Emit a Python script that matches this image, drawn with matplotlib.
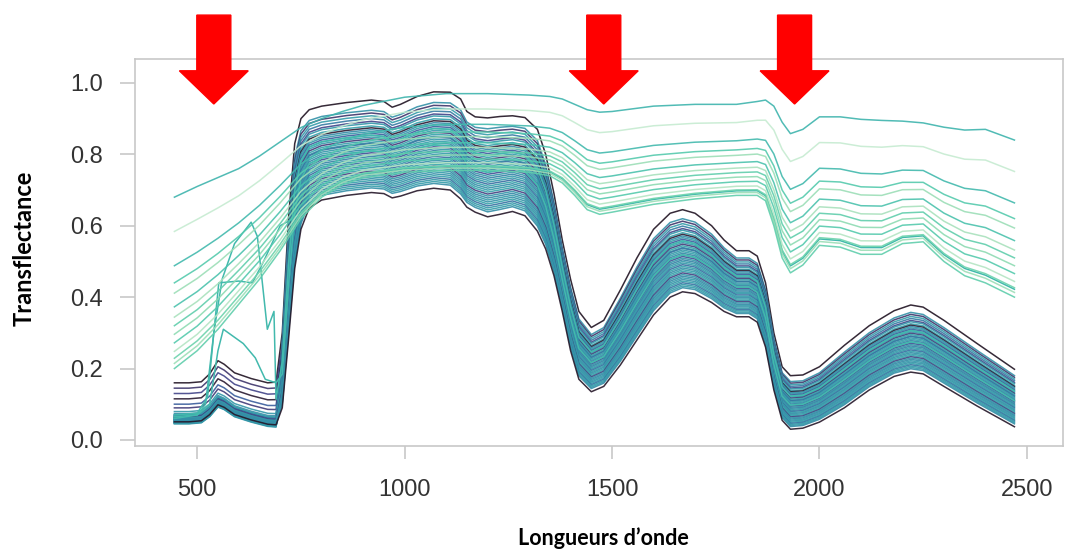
import numpy as np
import matplotlib
matplotlib.use("Agg")
import matplotlib.pyplot as plt
from matplotlib.patches import Polygon
import seaborn as sns

plt.rcParams['font.family'] = ['Liberation Sans', 'DejaVu Sans']

# ---- dark group (low visible, deep water bands) : envelopes
W_DARK = [445, 480, 510, 530, 550, 565, 590, 630, 670, 690, 705, 720, 735, 750, 770, 800,
          860, 920, 950, 970, 990, 1030, 1070, 1110, 1135, 1150, 1170, 1200, 1230, 1260,
          1290, 1320, 1340, 1360, 1380, 1400, 1420, 1450, 1480, 1520, 1560, 1600, 1640,
          1670, 1700, 1740, 1770, 1800, 1830, 1850, 1870, 1890, 1910, 1930, 1960, 2000,
          2060, 2120, 2180, 2220, 2250, 2300, 2380, 2470]
DARK_HIGH = [0.160, 0.160, 0.163, 0.185, 0.222, 0.212, 0.188, 0.172, 0.160, 0.162, 0.30, 0.62,
             0.83, 0.90, 0.925, 0.935, 0.945, 0.952, 0.948, 0.932, 0.94, 0.962, 0.975, 0.974,
             0.955, 0.92, 0.905, 0.902, 0.906, 0.908, 0.903, 0.87, 0.80, 0.69, 0.56, 0.45,
             0.36, 0.315, 0.335, 0.42, 0.51, 0.59, 0.635, 0.645, 0.635, 0.60, 0.56, 0.53,
             0.53, 0.515, 0.44, 0.30, 0.205, 0.18, 0.182, 0.205, 0.265, 0.32, 0.362, 0.378,
             0.372, 0.335, 0.27, 0.198]
DARK_LOW = [0.045, 0.045, 0.048, 0.065, 0.092, 0.085, 0.065, 0.050, 0.038, 0.036, 0.09, 0.28,
            0.48, 0.59, 0.65, 0.672, 0.685, 0.693, 0.69, 0.678, 0.683, 0.698, 0.705, 0.70,
            0.675, 0.652, 0.638, 0.625, 0.632, 0.64, 0.628, 0.585, 0.535, 0.46, 0.36, 0.25,
            0.17, 0.135, 0.15, 0.21, 0.28, 0.35, 0.40, 0.415, 0.41, 0.385, 0.36, 0.345,
            0.345, 0.33, 0.26, 0.14, 0.055, 0.03, 0.033, 0.05, 0.09, 0.14, 0.178, 0.19,
            0.185, 0.15, 0.095, 0.037]

# position of each dark spectrum inside the band (NIR/SWIR), its visible level, its tone
DARK_FRAC = [1.00, 0.89, 0.86, 0.83, 0.80, 0.77, 0.75, 0.72, 0.70, 0.68, 0.66, 0.64, 0.62,
             0.60, 0.58, 0.56, 0.54, 0.53, 0.51, 0.49, 0.47, 0.45, 0.43, 0.41, 0.39, 0.37,
             0.35, 0.33, 0.31, 0.29, 0.27, 0.25, 0.23, 0.21, 0.19, 0.17, 0.15, 0.13, 0.11,
             0.09, 0.07, 0.05, 0.00]
DARK_FRAC_VIS = [1.00, 0.05, 0.87, 0.20, 0.10, 0.74, 0.15, 0.02, 0.61, 0.22, 0.08, 0.48, 0.12,
                 0.18, 0.39, 0.04, 0.25, 0.10, 0.30, 0.06, 0.14, 0.00, 0.20, 0.09, 0.16, 0.03,
                 0.12, 0.07, 0.22, 0.01, 0.11, 0.05, 0.17, 0.08, 0.13, 0.02, 0.10, 0.06, 0.04,
                 0.15, 0.03, 0.09, 0.05]
DARK_TONE = [0.08, 0.58, 0.25, 0.62, 0.50, 0.32, 0.60, 0.63, 0.12, 0.55, 0.61, 0.40, 0.58,
             0.62, 0.28, 0.64, 0.57, 0.48, 0.60, 0.63, 0.54, 0.62, 0.35, 0.59, 0.52, 0.61,
             0.60, 0.45, 0.63, 0.57, 0.62, 0.64, 0.30, 0.59, 0.55, 0.61, 0.58, 0.63, 0.47,
             0.60, 0.62, 0.57, 0.10]

# ---- light group (bright, smooth spectra)
W_LIGHT = [445, 500, 550, 600, 650, 700, 750, 800, 850, 900, 1000, 1100, 1200, 1300, 1350,
           1380, 1410, 1440, 1470, 1500, 1600, 1700, 1800, 1850, 1870, 1890, 1910, 1930,
           1960, 2000, 2050, 2100, 2150, 2200, 2250, 2300, 2350, 2400, 2470]
LIGHT_HIGH = [0.68, 0.71, 0.735, 0.76, 0.795, 0.835, 0.875, 0.90, 0.92, 0.937, 0.96, 0.97,
              0.97, 0.966, 0.962, 0.955, 0.94, 0.925, 0.918, 0.92, 0.935, 0.94, 0.94, 0.948,
              0.952, 0.935, 0.89, 0.858, 0.87, 0.905, 0.905, 0.898, 0.895, 0.893, 0.888,
              0.876, 0.868, 0.87, 0.84]
LIGHT_LOW = [0.20, 0.25, 0.31, 0.38, 0.45, 0.53, 0.62, 0.68, 0.715, 0.735, 0.75, 0.755,
             0.755, 0.75, 0.74, 0.72, 0.685, 0.645, 0.632, 0.638, 0.66, 0.675, 0.685, 0.685,
             0.67, 0.60, 0.51, 0.468, 0.49, 0.545, 0.54, 0.52, 0.52, 0.55, 0.555, 0.50,
             0.46, 0.44, 0.40]
LIGHT_FRAC = [1.00, 0.80, 0.60, 0.50, 0.44, 0.36, 0.30, 0.25, 0.20, 0.15, 0.10, 0.06, 0.03, 0.00]
LIGHT_TONE = [0.70, 0.95, 0.72, 0.78, 0.88, 0.75, 0.90, 0.80, 0.86, 0.78, 0.92, 0.82, 0.88, 0.80]

# ---- odd spectra in the visible region (teal), before they join a group
P_W = [445, 500, 520, 540, 560, 590, 630, 645, 669, 685]
P_V = [0.06, 0.07, 0.10, 0.30, 0.45, 0.55, 0.61, 0.57, 0.31, 0.36]
Q_W = [445, 500, 525, 540, 552, 600, 633, 660, 700]
Q_V = [0.07, 0.075, 0.12, 0.30, 0.44, 0.445, 0.44, 0.50, 0.60]
R_W = [445, 500, 530, 550, 563, 611, 640, 664, 690]
R_V = [0.065, 0.07, 0.10, 0.25, 0.31, 0.27, 0.23, 0.17, 0.16]

ARROW_WL = [540, 1480, 1940]

cmap = sns.color_palette("mako", as_cmap=True)

fig = plt.figure(figsize=(10.68, 5.52), dpi=100)
ax = fig.add_axes([0.1264, 0.192, 0.8689, 0.7011])

wd = np.array(W_DARK)
dh = np.array(DARK_HIGH)
dl = np.array(DARK_LOW)
vis = wd <= 690

for f, fv, t in zip(DARK_FRAC, DARK_FRAC_VIS, DARK_TONE):
    frac = np.where(vis, fv, f)
    ax.plot(wd, dl + frac * (dh - dl), color=cmap(t), lw=1.1, alpha=0.9)

wl = np.array(W_LIGHT)
lh = np.array(LIGHT_HIGH)
ll = np.array(LIGHT_LOW)

# odd spectra: visible part as read, then the rest of the band they join
for w_vis, v_vis, group, f in [(P_W, P_V, 'dark', 0.62), (R_W, R_V, 'dark', 0.45),
                               (Q_W, Q_V, 'light', 0.05)]:
    if group == 'dark':
        keep = wd > max(w_vis)
        tail_w, tail_v = wd[keep], (dl + f * (dh - dl))[keep]
    else:
        keep = wl > max(w_vis)
        tail_w, tail_v = wl[keep], (ll + f * (lh - ll))[keep]
    ax.plot(np.concatenate([w_vis, tail_w]), np.concatenate([v_vis, tail_v]),
            color=cmap(0.72), lw=1.1)

for f, t in zip(LIGHT_FRAC, LIGHT_TONE):
    ax.plot(wl, ll + f * (lh - ll), color=cmap(t), lw=1.1, alpha=0.9)

# red arrows pointing at the bands
for a in ARROW_WL:
    pts = [(a - 41, 1.19), (a + 41, 1.19), (a + 41, 1.034), (a + 83, 1.034),
           (a, 0.941), (a - 83, 1.034), (a - 41, 1.034)]
    ax.add_patch(Polygon(pts, closed=True, color='#ff0000', clip_on=False, zorder=5))

ax.set_xlim(350, 2587)
ax.set_ylim(-0.017, 1.067)
ax.set_xticks([500, 1000, 1500, 2000, 2500])
ax.set_yticks([0.0, 0.2, 0.4, 0.6, 0.8, 1.0])
ax.set_yticklabels(['0.0', '0.2', '0.4', '0.6', '0.8', '1.0'])
for s in ax.spines.values():
    s.set_color('#c8c8c8')
    s.set_linewidth(1.2)
ax.tick_params(axis='y', length=11, width=1.2, color='#c8c8c8', pad=12,
               labelsize=17, labelcolor='#333333')
ax.tick_params(axis='x', length=9, width=1.2, color='#c8c8c8', pad=15,
               labelsize=17, labelcolor='#333333')

fig.text(24 / 1068, 1 - 248 / 552, 'Transflectance', rotation=90, fontsize=17,
         fontweight='bold', family='Lato', ha='center', va='center')
fig.text(603 / 1068, 1 - 538 / 552, 'Longueurs d\u2019onde', fontsize=15.5,
         fontweight='bold', family='Lato', ha='center', va='center')

fig.savefig('out.png', dpi=100)
